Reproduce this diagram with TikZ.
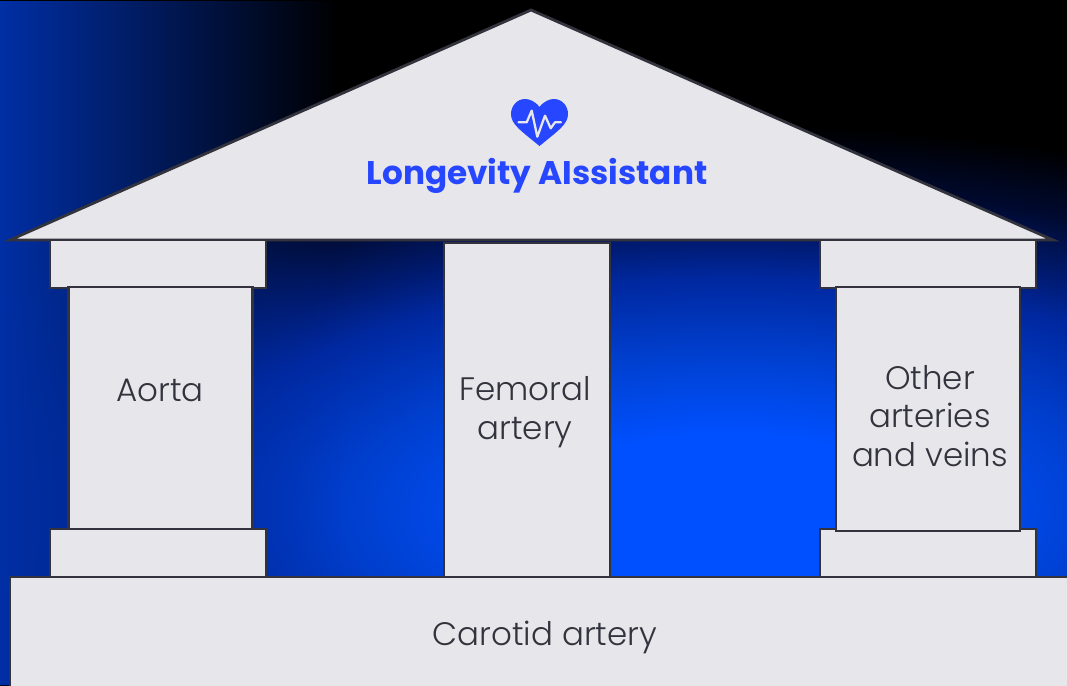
\documentclass[tikz,border=0pt]{standalone}
\usepackage{xcolor}
\usepackage{fontspec}
\setmainfont{Poppins}[UprightFont=* Light,BoldFont=* Bold]
\usepackage{tikz}
\usetikzlibrary{fadings}
\definecolor{lgblue}{HTML}{2646FF}
\definecolor{lgstone}{HTML}{E6E6EB}
\definecolor{lgink}{HTML}{33333D}
\definecolor{lgleft}{HTML}{002FA5}
\definecolor{lgglowa}{HTML}{0050FF}
\definecolor{lgglowb}{HTML}{0040D0}
\definecolor{lgglowc}{HTML}{0028A0}
\definecolor{lgglowd}{HTML}{001A70}
\definecolor{lgglowe}{HTML}{000A30}
\pgfdeclareradialshading{lgglow}{\pgfpoint{0bp}{0bp}}{
  color(0bp)=(lgglowa);
  color(5bp)=(lgglowa);
  color(10bp)=(lgglowb);
  color(15bp)=(lgglowc);
  color(17.5bp)=(lgglowd);
  color(21bp)=(lgglowe);
  color(25bp)=(black);
  color(50bp)=(black)}
\tikzfading[name=lgfadeleft,left color=transparent!0,right color=transparent!100]
\begin{document}
\begin{tikzpicture}[x=1pt,y=-1pt,
  stone/.style={draw=lgink,fill=lgstone,line width=2.8pt,line join=miter},
  capbox/.style={stone,minimum width=216pt,minimum height=48pt,inner sep=0pt},
  shaftbox/.style={stone,minimum width=184pt,inner sep=0pt},
  caption/.style={text=lgink,font=\fontsize{32.5}{38.7}\selectfont,align=center,inner sep=0pt}]
\clip (0,0) rectangle (1067,685);
\fill[black] (0,0) rectangle (1067,685);
\shade[shading=lgglow] (-200,125) rectangle (1660,895);
\fill[lgleft,path fading=lgfadeleft] (0,0) rectangle (340,685);
\draw[stone] (531,10) -- (1053,240) -- (10,240) -- cycle;
\node[capbox] (aortatop) at (158,264) {};
\node[capbox] (aortafoot) at (158,553) {};
\node[capbox] (othertop) at (928,264) {};
\node[capbox] (otherfoot) at (928,553) {};
\node[shaftbox,minimum height=242pt] (aortashaft) at (160.5,408) {};
\node[shaftbox,minimum height=244pt] (othershaft) at (928,409) {};
\node[stone,minimum width=166pt,minimum height=334pt,inner sep=0pt] (femoralshaft) at (527,410) {};
\draw[stone] (10,690) -- (10,577) -- (1075,577) -- (1075,690) -- cycle;
\node[caption] (aorta) at (160,390) {Aorta};
\node[caption] (femoral) at (525,412) {Femoral\\artery};
\node[caption] (other) at (930,416) {Other\\arteries\\and veins};
\node[caption] (carotid) at (545,637) {Carotid artery};
\node[text=lgblue,font=\fontsize{32.7}{38}\selectfont\bfseries,inner sep=0pt] (title) at (537,176) {Longevity AIssistant};
\fill[lgblue] (539.5,107) .. controls (535,101) and (529,99) .. (525,99) .. controls (517,99) and (511,106) .. (511,114) .. controls (511,124) and (520,130) .. (539.5,146) .. controls (559,130) and (568,124) .. (568,114) .. controls (568,106) and (562,99) .. (554,99) .. controls (550,99) and (544,101) .. (539.5,107) -- cycle;
\draw[lgstone,line width=2.3pt,line join=round,line cap=round] (518.5,122.3) -- (526.7,122.3) -- (531.7,110.7) -- (537.3,136.7) -- (545,115.7) -- (550.7,128.3) -- (555,122.3) -- (561,122.3);
\end{tikzpicture}
\end{document}
